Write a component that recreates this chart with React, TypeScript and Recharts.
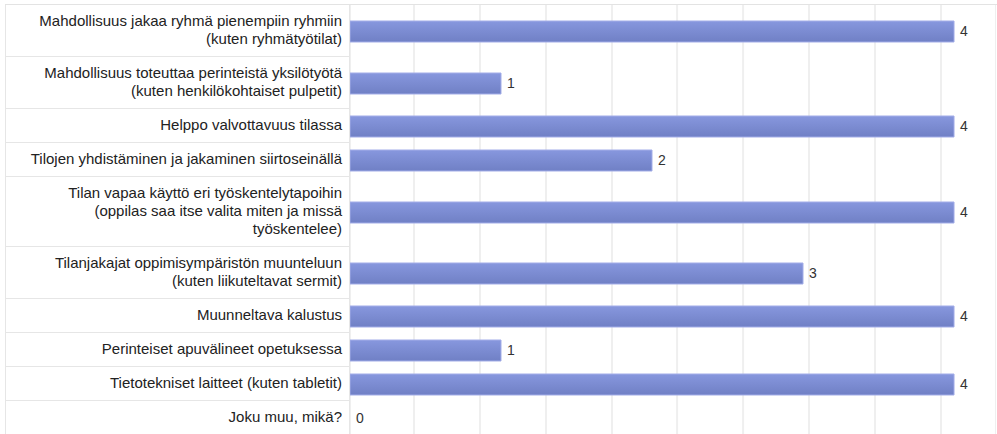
import React from 'react';
import { ComposedChart, Bar, Scatter, XAxis, YAxis, CartesianGrid } from 'recharts';

// survey answers, one row per option (line breaks as in the original table)
const categories = [
    'Mahdollisuus jakaa ryhmä pienempiin ryhmiin\n(kuten ryhmätyötilat)',
    'Mahdollisuus toteuttaa perinteistä yksilötyötä\n(kuten henkilökohtaiset pulpetit)',
    'Helppo valvottavuus tilassa',
    'Tilojen yhdistäminen ja jakaminen siirtoseinällä',
    'Tilan vapaa käyttö eri työskentelytapoihin\n(oppilas saa itse valita miten ja missä\ntyöskentelee)',
    'Tilanjakajat oppimisympäristön muunteluun\n(kuten liikuteltavat sermit)',
    'Muunneltava kalustus',
    'Perinteiset apuvälineet opetuksessa',
    'Tietotekniset laitteet (kuten tabletit)',
    'Joku muu, mikä?'
];

const counts = [4, 1, 4, 2, 4, 3, 4, 1, 4, 0];

// background grid, in value units
const gridTicks = [0.424, 0.861, 1.298, 1.735, 2.166, 2.603, 3.04, 3.477, 3.914];
const axisMax = 4.278;

const LABEL_W = 345;
const CHART_W = 646;
const FONT = '"Liberation Sans", Arial, sans-serif';

// value text just right of the bar end (works for 0 as well)
const ValueText = (p: any) => (
    <text
        x={p.cx + 6}
        y={p.cy}
        dy="0.35em"
        fill="#333"
        fontSize={14}
        fontFamily={FONT}
    >
        {p.payload.value}
    </text>
);

const Row = ({ label, value, idx }: { label: string; value: number; idx: number }) => {
    const lines = label.split('\n');
    const h = 34 + 18 * (lines.length - 1);
    const data = [{ name: label, value }];

    return (
        <div style={{ display: 'flex', height: h }}>
            <div
                style={{
                    width: LABEL_W,
                    height: h,
                    boxSizing: 'border-box',
                    borderLeft: '1px solid #e6e6e6',
                    borderRight: '1px solid #e6e6e6',
                    borderBottom: '1px solid #e6e6e6',
                    padding: '0 7px 1px 0',
                    display: 'flex',
                    flexDirection: 'column',
                    justifyContent: 'center',
                    alignItems: 'flex-end',
                    textAlign: 'right',
                    fontSize: 15,
                    lineHeight: '18px',
                    color: '#222',
                    whiteSpace: 'nowrap'
                }}
            >
                {lines.map((l, i) => (
                    <div key={i}>{l}</div>
                ))}
            </div>
            <ComposedChart
                width={CHART_W}
                height={h}
                data={data}
                layout="vertical"
                margin={{ top: 0, right: 0, bottom: 0, left: 0 }}
            >
                <defs>
                    <linearGradient id={`barFill${idx}`} x1="0" y1="0" x2="0" y2="1">
                        <stop offset="0%" stopColor="#8797de" />
                        <stop offset="100%" stopColor="#7080c5" />
                    </linearGradient>
                </defs>
                <CartesianGrid horizontal={false} stroke="#efefef" strokeWidth={2} />
                <XAxis
                    type="number"
                    domain={[0, axisMax]}
                    ticks={gridTicks}
                    allowDataOverflow
                    hide
                />
                <YAxis type="category" dataKey="name" hide />
                <Bar
                    dataKey="value"
                    barSize={21}
                    fill={`url(#barFill${idx})`}
                    stroke="#a3ade8"
                    strokeWidth={1}
                    isAnimationActive={false}
                />
                <Scatter dataKey="value" shape={ValueText} isAnimationActive={false} />
            </ComposedChart>
        </div>
    );
};

const App = () => {
    return (
        <div
            style={{
                position: 'absolute',
                left: 5,
                top: 4,
                width: LABEL_W + CHART_W + 1,
                borderTop: '1px solid #e3e3e3',
                fontFamily: FONT,
                background: '#fff'
            }}
        >
            {categories.map((c, i) => (
                <Row key={i} label={c} value={counts[i]} idx={i} />
            ))}
        </div>
    );
};

export default App;
